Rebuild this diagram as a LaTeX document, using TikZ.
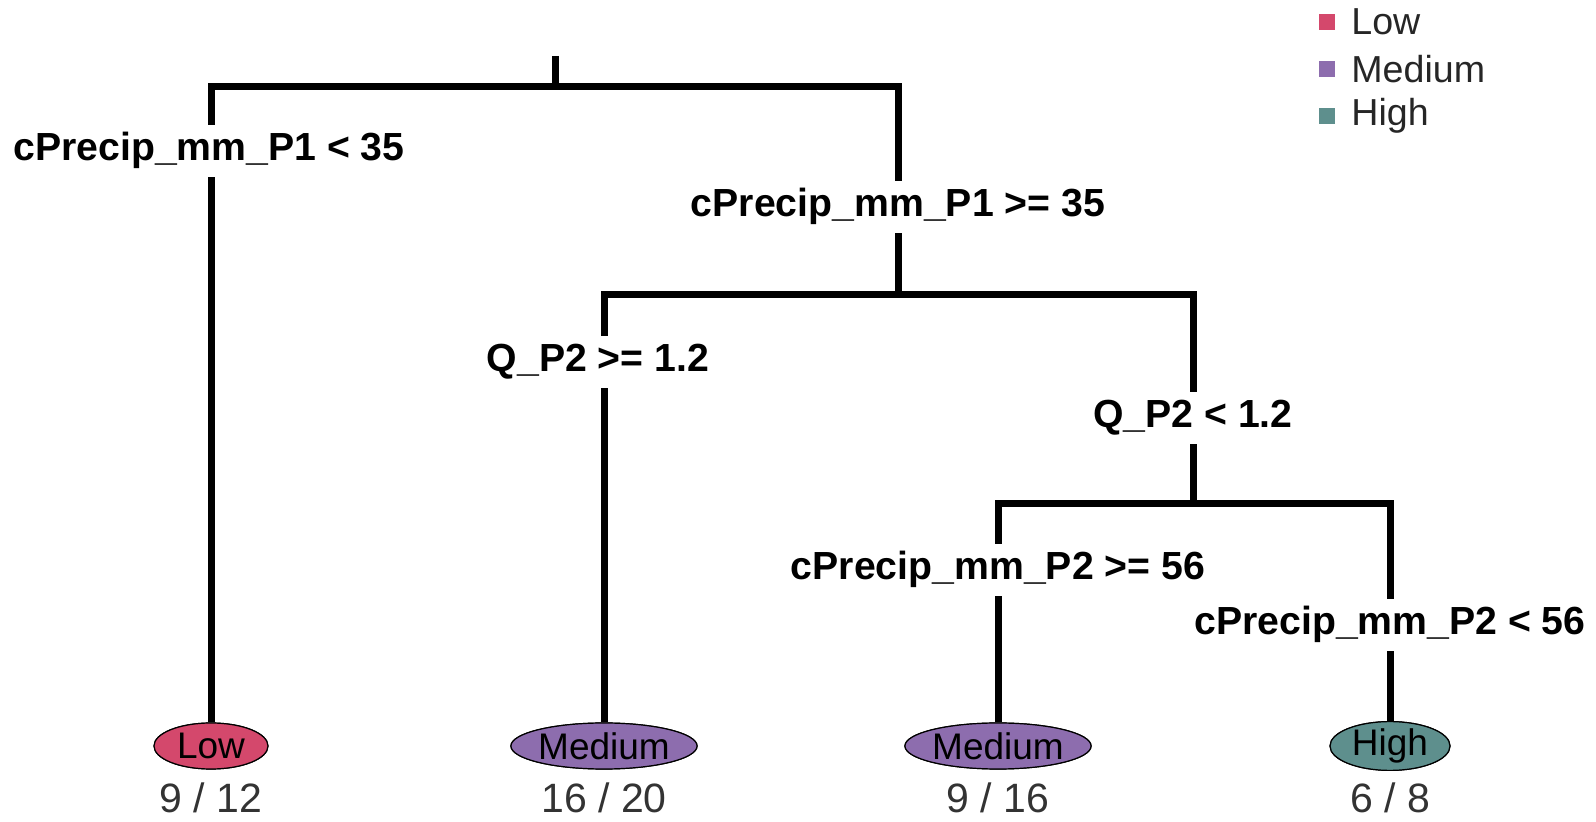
\documentclass[tikz,border=0pt]{standalone}
\usepackage{fontspec}
\setmainfont{Liberation Sans}
\usetikzlibrary{shapes.geometric}
\definecolor{lowc}{HTML}{D4486C}
\definecolor{medc}{HTML}{8D6DAE}
\definecolor{highc}{HTML}{5E8F8D}
\tikzset{
  branch/.style={line width=3.5pt, line join=miter},
  cond/.style={fill=white, font=\fontsize{19.6}{19.6}\selectfont\bfseries,
    text height=14.5pt, text depth=4.5pt, inner xsep=0pt, inner ysep=3.6pt},
  leaf/.style={ellipse, draw=black, line width=0.6pt, inner sep=0pt,
    minimum height=23pt, font=\fontsize{18.5}{18.5}\selectfont},
  count/.style={font=\fontsize{20.5}{20.5}\selectfont, text=black!80, inner sep=0pt},
  legsq/.style={rectangle, minimum size=8pt, inner sep=0pt},
  legtxt/.style={anchor=west, inner sep=0pt, font=\fontsize{18.8}{18.8}\selectfont, text=black!85}
}
\begin{document}
\begin{tikzpicture}[x=0.5pt, y=-0.5pt]
\useasboundingbox (0,0) rectangle (1596,822);

% split points of the tree
\coordinate (top) at (555,56);
\coordinate (s1) at (555,87);
\coordinate (s2) at (898,295);
\coordinate (s3) at (1193,504);

% leaves (placed first so the branches can reach them by name)
\path (211,746) node[leaf, fill=lowc, minimum width=57pt] (l1) {Low};
\path (604,746) node[leaf, fill=medc, minimum width=91pt] (l2) {Medium};
\path (998,746) node[leaf, fill=medc, minimum width=91pt] (l3) {Medium};
\path (1390,746) node[leaf, fill=highc, minimum width=60pt] (l4) {High};

% branches
\draw[branch] (top) -- (s1);
\draw[branch] (s1) -| (l1.north);
\draw[branch] (s1) -| (s2);
\draw[branch] (s2) -| (l2.north);
\draw[branch] (s2) -| (s3);
\draw[branch] (s3) -| (l3.north);
\draw[branch] (s3) -| (l4.north);

% redraw leaves on top of the branch ends
\path (211,746) node[leaf, fill=lowc, minimum width=57pt] {Low};
\path (604,746) node[leaf, fill=medc, minimum width=91pt] {Medium};
\path (998,746) node[leaf, fill=medc, minimum width=91pt] {Medium};
\path (1390,746) node[leaf, fill=highc, minimum width=60pt] {High};

% split conditions
\node[cond] (c1) at (209,151) {cPrecip\_mm\_P1 < 35};
\node[cond] (c2) at (898,207) {cPrecip\_mm\_P1 >= 35};
\node[cond] (c3) at (598,362) {Q\_P2 >= 1.2};
\node[cond] (c4) at (1193,418) {Q\_P2 < 1.2};
\node[cond] (c5) at (998,570) {cPrecip\_mm\_P2 >= 56};
\node[cond] (c6) at (1390,625) {cPrecip\_mm\_P2 < 56};

% class counts
\node[count] (n1) at (211,798) {9 / 12};
\node[count] (n2) at (604,798) {16 / 20};
\node[count] (n3) at (998,798) {9 / 16};
\node[count] (n4) at (1390,798) {6 / 8};

% legend
\node[legsq, fill=lowc] (k1) at (1327,22) {};
\node[legsq, fill=medc] (k2) at (1327,69) {};
\node[legsq, fill=highc] (k3) at (1327,116) {};
\node[legtxt] (t1) at (1351,22) {Low};
\node[legtxt] (t2) at (1351,69) {Medium};
\node[legtxt] (t3) at (1351,116) {High};
\end{tikzpicture}
\end{document}
